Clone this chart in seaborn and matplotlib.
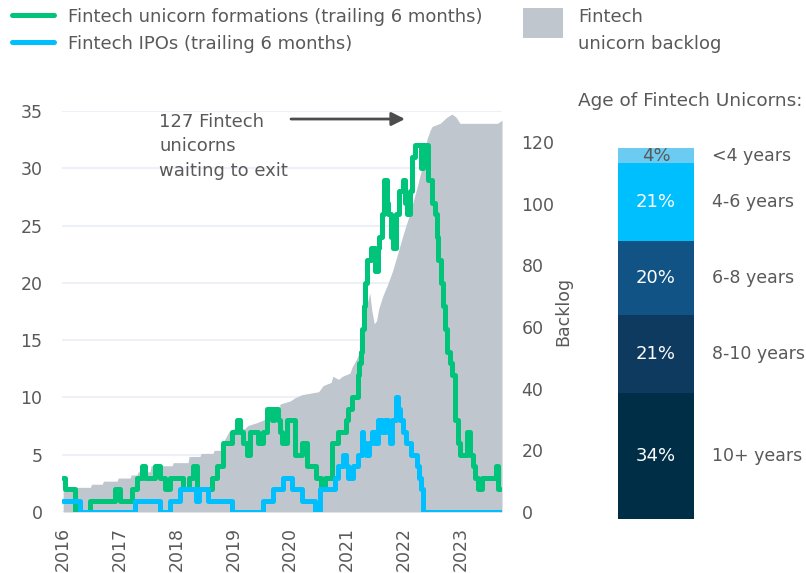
import pandas as pd
import matplotlib
matplotlib.use("Agg")
import matplotlib.pyplot as plt
import seaborn as sns
from matplotlib.lines import Line2D
from matplotlib.patches import Rectangle

# ---- data (decimal years) ----
formation_years = [2016.00, 2016.04, 2016.21, 2016.48, 2016.92, 2017.00, 2017.21, 2017.30, 2017.39, 2017.44,
                   2017.62, 2017.71, 2017.80, 2017.88, 2018.12, 2018.21, 2018.28, 2018.35, 2018.62, 2018.71,
                   2018.82, 2018.98, 2019.06, 2019.12, 2019.16, 2019.24, 2019.29, 2019.43, 2019.52, 2019.59,
                   2019.68, 2019.72, 2019.79, 2019.82, 2019.86, 2019.95, 2020.08, 2020.20, 2020.30, 2020.45,
                   2020.55, 2020.61, 2020.74, 2020.84, 2020.98, 2021.02, 2021.08, 2021.19, 2021.21, 2021.25,
                   2021.27, 2021.30, 2021.32, 2021.35, 2021.42, 2021.50, 2021.54, 2021.57, 2021.62, 2021.65,
                   2021.70, 2021.73, 2021.77, 2021.81, 2021.86, 2021.92, 2021.98, 2022.03, 2022.06, 2022.11,
                   2022.15, 2022.20, 2022.30, 2022.34, 2022.42, 2022.50, 2022.55, 2022.58, 2022.61, 2022.65,
                   2022.69, 2022.73, 2022.76, 2022.82, 2022.85, 2022.90, 2022.96, 2022.99, 2023.12, 2023.17,
                   2023.22, 2023.26, 2023.30, 2023.37, 2023.63, 2023.66, 2023.69]
formations = [3, 2, 0, 1, 2, 1, 2, 3, 4, 3,
              4, 3, 2, 3, 2, 3, 4, 2, 3, 4,
              6, 7, 8, 7, 6, 5, 7, 6, 7, 9,
              8, 9, 8, 7, 6, 8, 5, 6, 4, 3,
              2, 3, 6, 7, 8, 9, 10, 12, 13, 14,
              16, 18, 20, 22, 23, 21, 23, 24, 26, 29,
              27, 26, 24, 23, 26, 28, 29, 27, 26, 28,
              31, 32, 30, 32, 29, 27, 26, 24, 22, 20,
              18, 16, 14, 13, 12, 8, 6, 5, 7, 5,
              4, 3, 2, 3, 4, 2, 2]

ipo_years = [2016.00, 2016.30, 2017.27, 2017.71, 2017.88, 2018.06, 2018.34, 2018.40, 2018.55, 2018.98,
             2019.52, 2019.70, 2019.87, 2020.03, 2020.21, 2020.44, 2020.52, 2020.78, 2020.84, 2020.93,
             2020.98, 2021.02, 2021.10, 2021.19, 2021.26, 2021.28, 2021.33, 2021.38, 2021.44, 2021.50,
             2021.55, 2021.62, 2021.67, 2021.73, 2021.76, 2021.80, 2021.86, 2021.90, 2021.94, 2021.99,
             2022.04, 2022.13, 2022.23, 2022.27, 2022.31, 2022.34, 2023.73]
ipos = [1, 0, 1, 0, 1, 2, 1, 2, 1, 0,
        1, 2, 3, 2, 1, 0, 2, 3, 4, 5,
        4, 3, 4, 5, 7, 6, 5, 6, 7, 6,
        8, 7, 8, 7, 6, 8, 10, 9, 8, 7,
        6, 5, 4, 3, 2, 0, 0]

backlog_years = [2016.00, 2016.48, 2016.50, 2016.69, 2016.71, 2016.95, 2016.97, 2017.18, 2017.20, 2017.30,
                 2017.32, 2017.53, 2017.55, 2017.92, 2017.94, 2018.20, 2018.22, 2018.41, 2018.43, 2018.64,
                 2018.66, 2018.80, 2018.83, 2018.92, 2019.00, 2019.20, 2019.25, 2019.42, 2019.55, 2019.70,
                 2019.80, 2019.82, 2020.00, 2020.08, 2020.20, 2020.50, 2020.58, 2020.72, 2020.75, 2020.85,
                 2020.92, 2021.05, 2021.09, 2021.15, 2021.20, 2021.25, 2021.28, 2021.32, 2021.36, 2021.40,
                 2021.44, 2021.48, 2021.52, 2021.56, 2021.63, 2021.72, 2021.80, 2021.88, 2021.99, 2022.11,
                 2022.23, 2022.34, 2022.41, 2022.47, 2022.50, 2022.64, 2022.76, 2022.85, 2022.92, 2022.99,
                 2023.65, 2023.73]
backlog = [8, 8, 9, 9, 10, 10, 11, 11, 12, 12,
           13, 13, 15, 15, 16, 16, 18, 18, 19, 19,
           20, 20, 23, 26, 27, 27, 28, 29, 30, 32,
           32, 35, 36, 37, 38, 39, 41, 42, 44, 43,
           44, 45, 47, 49, 51, 55, 58, 63, 68, 71,
           65, 61, 62, 66, 70, 74, 78, 83, 90, 97,
           105, 113, 121, 124, 125, 126, 128, 129, 128, 126,
           126, 127]

year_ticks = [2016, 2017, 2018, 2019, 2020, 2021, 2022, 2023]

age_groups = ['10+ years', '8-10 years', '6-8 years', '4-6 years', '<4 years']
age_shares = [34, 21, 20, 21, 4]

GREEN = '#00C47A'
BLUE = '#00BFFF'
GREY = '#BFC6CE'
TXT = '#595959'
age_colors = ['#002E47', '#0E3A60', '#125385', '#00BFFF', '#6BCBF0']
age_text = ['white', 'white', 'white', 'white', TXT]

sns.set_theme(style="white")
plt.rcParams['font.family'] = ['DejaVu Sans']

form_df = pd.DataFrame({'year': formation_years, 'value': formations})
ipo_df = pd.DataFrame({'year': ipo_years, 'value': ipos})

fig = plt.figure(figsize=(8.06, 5.73), dpi=100)
ax = fig.add_axes([62 / 806, 1 - 512 / 573, 440 / 806, 401 / 573])
axb = ax.twinx()   # backlog (right axis)
axl = ax.twinx()   # lines on top

# backlog area
axb.fill_between(backlog_years, backlog, color=GREY, lw=0)
axb.set_ylim(0, 130)
axb.set_yticks([0, 20, 40, 60, 80, 100, 120])
axb.set_ylabel('Backlog', color=TXT, fontsize=12.5, labelpad=0)
axb.tick_params(axis='y', length=0, pad=14, labelsize=12.5, labelcolor=TXT)

# trailing-6-month lines
sns.lineplot(data=form_df, x='year', y='value', ax=axl, color=GREEN, lw=3.6,
             drawstyle='steps-post', estimator=None, sort=False)
sns.lineplot(data=ipo_df, x='year', y='value', ax=axl, color=BLUE, lw=3.6,
             drawstyle='steps-post', estimator=None, sort=False)
axl.set_ylim(0, 35)
axl.set_ylabel('')
axl.yaxis.set_visible(False)

ax.set_ylim(0, 35)
ax.set_yticks(range(0, 40, 5))
ax.grid(axis='y', color='#EDF1F7', lw=1.5)
ax.set_xlim(2015.98, 2023.73)
ax.set_xticks(year_ticks)
ax.set_xticklabels([str(y) for y in year_ticks], rotation=90)
ax.tick_params(axis='y', length=0, pad=14, labelsize=12.5, labelcolor=TXT)
ax.tick_params(axis='x', length=0, pad=11, labelsize=12.5, labelcolor=TXT)
for a in (ax, axb, axl):
    for s in a.spines.values():
        s.set_visible(False)

# annotation
axl.text(0.2205, 0.995, "127 Fintech\nunicorns\nwaiting to exit", transform=axl.transAxes,
         va='top', ha='left', fontsize=13, color=TXT, linespacing=1.45)
axl.annotate('', xy=(0.7795, 0.980), xytext=(0.5205, 0.980), xycoords='axes fraction',
             arrowprops=dict(arrowstyle='-|>', color='#4D4D4D', lw=2, mutation_scale=20,
                             shrinkA=0, shrinkB=0))

# age breakdown bar
bx = fig.add_axes([618 / 806, 1 - 518.7 / 573, 76 / 806, 370.4 / 573])
bottom = 0
for grp, share, col, tc in zip(age_groups, age_shares, age_colors, age_text):
    bx.bar(0, share, bottom=bottom, width=1, color=col, lw=0)
    bx.text(0, bottom + share / 2, f'{share}%', ha='center', va='center', fontsize=13, color=tc)
    bx.text(0.74, bottom + share / 2, grp, ha='left', va='center', fontsize=12.5, color=TXT, clip_on=False)
    bottom += share
bx.set_xlim(-0.5, 0.5)
bx.set_ylim(0, 100)
bx.axis('off')

fig.text(578 / 806, 1 - 101 / 573, 'Age of Fintech Unicorns:', ha='left', va='center',
         fontsize=13.3, color=TXT)

# legends
fig.legend(handles=[Line2D([0], [0], color=GREEN, lw=3.6), Line2D([0], [0], color=BLUE, lw=3.6)],
           labels=['Fintech unicorn formations (trailing 6 months)', 'Fintech IPOs (trailing 6 months)'],
           loc='upper left', bbox_to_anchor=(12 / 806, 1 - 7.5 / 573), frameon=False, fontsize=13,
           handlelength=2.3, handletextpad=0.8, labelspacing=0.5, borderpad=0, borderaxespad=0,
           labelcolor=TXT)
fig.add_artist(Rectangle((523 / 806, 1 - 38 / 573), 40 / 806, 30 / 573, transform=fig.transFigure,
                         facecolor=GREY, edgecolor='none'))
fig.text(578 / 806, 1 - 17 / 573, 'Fintech', ha='left', va='center', fontsize=13, color=TXT)
fig.text(578 / 806, 1 - 44 / 573, 'unicorn backlog', ha='left', va='center', fontsize=13, color=TXT)

fig.savefig('out.png', dpi=100, facecolor='white')
